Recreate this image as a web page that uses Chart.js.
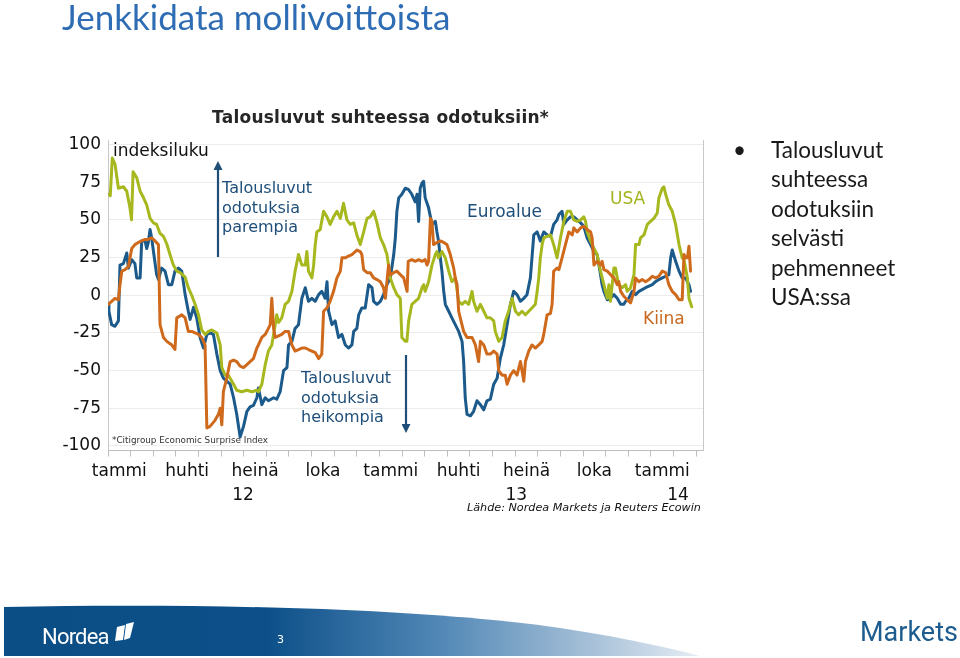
<!DOCTYPE html>
<html>
<head>
<meta charset="utf-8">
<script src="https://cdn.jsdelivr.net/npm/chart.js@4.4.1/dist/chart.umd.min.js"></script>
<style>
  html, body { margin: 0; padding: 0; background: #fff; }
  #page { position: relative; width: 960px; height: 658px; overflow: hidden; background: #fff; }
  #chartWrap { position: absolute; left: 0; top: 0; width: 960px; height: 658px; }
  .t { position: absolute; white-space: nowrap; }
  .dv { font-family: "DejaVu Sans", Verdana, sans-serif; }
  .cal { font-family: Lato, "Open Sans", sans-serif; }
</style>
</head>
<body>
<div id="page">
  <div id="chartWrap"><canvas id="c" width="960" height="658"></canvas></div>

  <div class="t cal" style="left:62px; top:-3px; font-size:35px; line-height:38px; color:#2E6DB4;">Jenkkidata mollivoittoista</div>

  <div class="t dv" style="left:212px; top:107px; font-size:17px; line-height:20px; font-weight:bold; letter-spacing:0.25px; color:#262626;">Talousluvut suhteessa odotuksiin*</div>
  <div class="t dv" style="left:113px; top:140px; font-size:17px; line-height:20px; color:#111;">indeksiluku</div>

  <div class="t dv" style="left:222px; top:178px; font-size:16px; line-height:19.5px; color:#1F4E79;">Talousluvut<br>odotuksia<br>parempia</div>
  <div class="t dv" style="left:301px; top:368px; font-size:16px; line-height:19.5px; color:#1F4E79;">Talousluvut<br>odotuksia<br>heikompia</div>

  <div class="t dv" style="left:467px; top:201px; font-size:17px; line-height:20px; color:#1F4E79;">Euroalue</div>
  <div class="t dv" style="left:610px; top:188px; font-size:17px; line-height:20px; color:#A3B31C;">USA</div>
  <div class="t dv" style="left:643px; top:308px; font-size:17px; line-height:20px; color:#C8691F;">Kiina</div>

  <div class="t dv" style="left:112px; top:434px; font-size:8.8px; line-height:12px; color:#333;">*Citigroup Economic Surprise Index</div>
  <div class="t dv" style="left:467px; top:501px; font-size:11.2px; line-height:14px; font-style:italic; color:#111;">Lähde: Nordea Markets ja Reuters Ecowin</div>

  <div class="t cal" style="left:733px; top:135px; font-size:22.5px; line-height:29.4px; color:#1a1a1a;">•</div>
  <div class="t cal" style="left:771px; top:135px; font-size:22.5px; line-height:29.4px; color:#1a1a1a;">Talousluvut<br>suhteessa<br>odotuksiin<br>selvästi<br>pehmenneet<br>USA:ssa</div>

  <svg style="position:absolute; left:0; top:0;" width="960" height="658">
    <defs>
      <linearGradient id="band" x1="0" y1="0" x2="1" y2="0">
        <stop offset="0" stop-color="#0B4E85"/>
        <stop offset="0.38" stop-color="#0D5089"/>
        <stop offset="0.62" stop-color="#4F86B5"/>
        <stop offset="0.85" stop-color="#A9C2D9"/>
        <stop offset="1" stop-color="#E6EDF4"/>
      </linearGradient>
      <marker id="ah" markerUnits="userSpaceOnUse" markerWidth="9" markerHeight="9" refX="2" refY="4.5" orient="auto">
        <path d="M0,0 L9,4.5 L0,9 Z" fill="#1F4E79"/>
      </marker>
    </defs>
    <line x1="218" y1="257" x2="218" y2="168" stroke="#1F4E79" stroke-width="2.2" marker-end="url(#ah)"/>
    <line x1="406" y1="355" x2="406" y2="426" stroke="#1F4E79" stroke-width="2.2" marker-end="url(#ah)"/>
    <path d="M4,607 C 200,603 420,608 560,628 C 620,637 670,648 700,656 L4,656 Z" fill="url(#band)"/>
    <text x="42" y="644" font-family="Roboto, 'Liberation Sans', sans-serif" font-size="22" fill="#fff" letter-spacing="-0.8">Nordea</text>
    <path d="M117,627 L125,625 L123,640 L115,641 Z" fill="#fff"/>
    <path d="M126,624 L134,622 L130,638 L124,640 Z" fill="#fff"/>
    <text x="277" y="643" font-family="'DejaVu Sans', sans-serif" font-size="11" fill="#fff">3</text>
    <text x="860" y="641" font-family="Roboto, 'Liberation Sans', sans-serif" font-size="27" fill="#1D5C8F">Markets</text>
  </svg>
</div>

<script>
// ---- data (months since start of Jan 2012, index value) ----
const xTickLabels = ['tammi','huhti','heinä','loka','tammi','huhti','heinä','loka','tammi'];
const yearLabels = ['12','13','14'];
const yTickValues = [-100,-75,-50,-25,0,25,50,75,100];

const euroMonths = [0.01,0.04,0.16,0.31,0.46,0.53,0.68,0.83,0.9,1.05,1.19,1.27,1.42,1.49,1.64,1.71,1.78,1.86,1.93,2.01,2.15,2.23,2.37,2.52,2.67,2.82,2.96,3.11,3.26,3.41,3.55,3.63,3.78,3.92,4.07,4.22,4.37,4.51,4.66,4.81,4.96,5.1,5.25,5.4,5.55,5.69,5.84,5.99,6.14,6.28,6.43,6.58,
6.65,6.8,6.95,7.09,7.32,7.46,7.61,7.76,7.91,7.98,8.13,8.27,8.42,8.57,8.72,8.86,9.01,9.16,9.31,9.45,9.6,9.68,9.75,9.9,10.04,10.19,10.34,10.49,10.63,10.78,10.86,11.0,11.08,11.22,11.37,11.52,11.67,11.74,11.89,12.04,12.18,12.33,12.48,12.63,12.7,12.77,12.85,12.99,13.14,
13.29,13.43,13.58,13.66,13.73,13.8,13.88,13.95,14.02,14.17,14.32,14.47,14.54,14.61,14.69,14.76,14.84,14.91,15.06,15.2,15.35,15.5,15.65,15.72,15.79,15.87,16.02,16.16,16.31,16.46,16.61,16.75,16.9,17.05,17.2,17.34,17.49,17.64,17.79,17.93,18.08,18.23,18.38,18.52,18.67,18.82,18.97,19.11,19.26,19.41,19.56,19.7,19.85,
19.93,20.07,20.15,20.3,20.44,20.59,20.74,20.89,21.03,21.18,21.33,21.48,21.62,21.7,21.77,21.84,21.92,22.07,22.21,22.36,22.51,22.66,22.8,22.88,23.02,23.17,23.32,23.47,23.61,23.76,23.91,24.06,24.2,24.35,24.5,24.65,24.79,24.87,24.94,25.09,25.24,25.38,25.53,25.61,25.68,25.75];
const euroValues = [-6,-10.6,-19.5,-20.6,-17,20,21,28,18,23.6,21,11.5,11.5,36,36,31,35,43.6,38,29,13.7,10.4,18,16,7,7,16,18,16,0.4,-10.6,-16,-8,-15,-28,-35,-26,-25,-26,-39,-50,-55,-57,-59,-68,-79,-94,-87,-77,-74,-73,-68,
-61.5,-72.6,-68,-70,-68,-69,-64,-50,-48,-33,-30.6,-22,-19.5,-2,5,-4,-2,-4,0.4,2.6,-2,9,-10.6,-19.5,-17,-28,-26,-33,-35,-33,-24,-22,-13,-8.4,-8.4,7,5,-4,-6,-4,0.4,7,11.5,27,38,55.7,64.6,67,71,
70,67,62,67,49,71,74.5,75.6,64.6,58,47,49,42,36,24.8,16,2.6,-6,-10.6,-15,-19.5,-24,-30.6,-44,-68,-79,-80,-77,-70,-72.6,-76,-70,-69,-59,-55,-42,-33,-19.5,-6,2.6,0.4,-4,-2,0.4,11.5,40,42,36,42,40,39,47,50,
53.5,55.7,47,50,52,52,50,48,45.8,38,33.6,29,27,20,13.7,7,2.6,-3,-2,0.4,-2,-6,-6,-4,-2,2.6,0.4,2.6,3.7,5,6,7,9,10.4,11.5,12.6,13.7,24.8,30,22.5,16,11.5,11.5,9,7,2.6];

const usaMonths = [0.04,0.1,0.19,0.31,0.46,0.68,0.83,0.97,1.04,1.11,1.27,1.42,1.56,1.71,1.86,2.01,2.15,2.3,2.45,2.6,2.74,2.89,3.04,3.19,3.41,3.55,3.7,3.85,4.0,4.14,4.29,4.44,4.59,4.81,4.96,5.03,5.18,5.32,5.55,5.69,5.91,6.14,6.36,6.58,
6.65,6.8,6.95,7.09,7.24,7.39,7.46,7.54,7.68,7.83,7.98,8.13,8.27,8.42,8.57,8.72,8.79,8.86,9.01,9.09,9.16,9.23,9.38,9.53,9.68,9.82,9.97,10.12,10.27,10.41,10.56,10.71,10.86,11.0,11.15,11.3,11.45,11.59,11.74,11.89,12.04,12.18,12.33,12.48,12.63,12.77,12.92,12.99,13.14,
13.21,13.29,13.43,13.58,13.73,13.88,13.95,14.02,14.17,14.32,14.47,14.54,14.61,14.76,14.91,15.06,15.2,15.35,15.5,15.65,15.79,15.94,16.09,16.16,16.31,16.46,16.61,16.75,16.9,17.05,17.12,17.27,17.42,17.56,17.71,17.86,18.01,18.15,18.3,18.45,18.6,18.74,18.89,18.97,19.04,19.11,19.19,19.26,19.41,19.56,19.7,19.85,
20.0,20.15,20.3,20.44,20.59,20.74,20.89,21.03,21.11,21.18,21.33,21.48,21.62,21.77,21.92,21.99,22.07,22.14,22.21,22.36,22.43,22.51,22.58,22.73,22.88,22.95,23.1,23.25,23.32,23.47,23.54,23.69,23.84,23.98,24.13,24.28,24.35,24.5,24.57,24.65,24.79,24.94,25.09,25.24,25.38,25.46,25.53,25.61,25.68,25.8];
const usaValues = [67,66,91,87,71,72,69,58,50,82,78,69,65,60,51,48,47,41,39,34,27,20,16,15,12,5,0,-6,-13,-23,-26,-24,-23,-25,-33,-48,-53,-53,-59,-63,-64,-63,-64,-63,
-64,-59,-46,-37,-33,-19.5,-13,-18,-15,-6,-4,2.6,16,27,20,20,29,16,11.5,20,33.6,42,43.6,55.7,52,47,52,55.7,51,61,50,47,48,40,33.6,42,51,52,55.7,48,38,33.6,27,11.5,5,0.4,-2,-28,-30.6,
-30.6,-17,-6,-4,-2,5,7,2.6,9,20,27,29,24.8,29,24.8,16,9,11.5,-4,-6,-4,-6,2.6,-4,-10.6,-6,-10.6,-15,-15,-17,-24,-30.6,-28,-17,-10.6,-2,-10.6,-13,-10.6,-13,-10.6,-8.4,-6,2.6,11.5,24.8,33.6,38,39,40,33.6,24.8,
38,49,55.7,55.7,50,49,50,52,49,42,36,31,27,16,7,2.6,-2,7,-4,18,18,11.5,7,5,7,2.6,5,13.7,33.6,33.6,38,40,47,49,51,54.6,64.6,71,72,67,60,55.7,47,33.6,24.8,23.6,18,11.5,-2,-7.6];

const chinaMonths = [0.01,0.16,0.31,0.46,0.53,0.61,0.75,0.9,1.05,1.19,1.34,1.49,1.64,1.78,1.93,2.08,2.23,2.3,2.45,2.6,2.82,2.96,3.04,3.26,3.41,3.55,3.7,3.85,4.0,4.14,4.29,4.37,4.51,4.73,4.88,4.96,5.03,5.1,5.25,5.4,5.55,5.69,5.84,5.99,6.14,6.28,6.43,6.58,
6.65,6.8,6.95,7.09,7.17,7.24,7.32,7.39,7.54,7.68,7.83,7.98,8.13,8.27,8.42,8.57,8.72,8.86,9.01,9.16,9.31,9.45,9.53,9.68,9.82,9.97,10.12,10.27,10.34,10.49,10.63,10.78,10.93,11.0,11.15,11.22,11.3,11.45,11.59,11.74,11.89,12.04,12.18,12.26,12.33,12.4,12.48,12.63,12.77,12.92,13.07,13.22,
13.27,13.43,13.58,13.73,13.88,14.02,14.1,14.17,14.25,14.32,14.39,14.54,14.69,14.84,14.98,15.13,15.28,15.35,15.43,15.5,15.57,15.72,15.87,16.09,16.24,16.38,16.46,16.61,16.75,16.9,17.05,17.2,17.27,17.42,17.56,17.64,17.79,17.93,18.08,18.23,18.38,18.45,18.6,18.74,18.89,19.04,19.19,19.26,19.41,19.56,19.63,19.7,19.85,
19.93,20.07,20.22,20.37,20.52,20.59,20.74,20.89,21.03,21.18,21.33,21.4,21.48,21.62,21.77,21.84,21.92,22.07,22.21,22.36,22.51,22.58,22.66,22.8,22.95,23.1,23.25,23.32,23.47,23.61,23.76,23.91,24.06,24.2,24.35,24.5,24.65,24.79,24.94,25.09,25.24,25.38,25.46,25.53,25.61,25.68,25.75];
const chinaValues = [-6,-4,-2,-3,7,16,17,19,31,33.6,35,36,37,37,38,36,33.6,-19.5,-28,-30.6,-33,-36,-15,-13,-15,-24,-24,-25,-26,-28,-33,-88,-87,-83,-79,-75,-86,-64,-55,-44,-43,-44,-47,-48,-46,-44,-42,-35,
-33,-28,-26,-22,-19.5,-2,-22,-28,-27,-26,-24,-24,-33,-37,-36,-35,-35,-36,-37,-38,-42,-39,-10.6,-8.4,-4,2.6,11.5,16,24.8,24.8,26,27,29,30,29,27,17,15,15,11.5,10.4,9,5,-2,9,20,13.7,15,16,13.7,11.5,2.6,
22.5,23.6,22.5,23.6,22.5,23.6,20,22.5,51,49,33.6,35,36,35,33.6,27,18,11.5,7,-10.6,-15,-24,-28,-28,-33,-44,-30.6,-33,-39,-39,-37,-39,-50,-53,-53,-59,-53,-50,-53,-44,-57,-44,-37,-33,-35,-33,-30.6,-26,-13,-12,-6,16,18,
17,24.8,33.6,42,40,44.7,42,44.7,45.8,43.6,42,38,20,22.5,20,22.5,17,16,13.7,11.5,7,9,2.6,-0.7,-3,-5,2.6,11.5,9,10.4,9,10.4,12.6,11.5,12.6,16,15,7,2.6,0.4,-3,-3,27,24.8,24.8,32.5,16];

const toPoints = (ms, vs) => ms.map((m, i) => ({ x: m, y: vs[i] }));

const yearLabelPlugin = {
  id: 'yearLabels',
  afterDraw(chart, args, opts) {
    const xs = chart.scales.x;
    const c = chart.ctx;
    c.save();
    c.font = '17px "DejaVu Sans", Verdana, sans-serif';
    c.fillStyle = '#111';
    c.textAlign = 'center';
    c.textBaseline = 'middle';
    opts.at.forEach((m, i) => {
      c.fillText(yearLabels[i], xs.getPixelForValue(m), opts.y);
    });
    c.restore();
  }
};

new Chart(document.getElementById('c'), {
  type: 'line',
  data: {
    datasets: [
      { label: 'Kiina', data: toPoints(chinaMonths, chinaValues), borderColor: '#CF6A1D', order: 1 },
      { label: 'USA', data: toPoints(usaMonths, usaValues), borderColor: '#A7B81F', order: 2 },
      { label: 'Euroalue', data: toPoints(euroMonths, euroValues), borderColor: '#1B5A8A', order: 3 }
    ]
  },
  options: {
    responsive: false,
    animation: false,
    elements: {
      line: { borderWidth: 3, tension: 0, borderJoinStyle: 'round', borderCapStyle: 'round' },
      point: { radius: 0, hoverRadius: 0 }
    },
    layout: { padding: { left: 0, right: 257, top: 140, bottom: 0 } },
    plugins: {
      legend: { display: false },
      tooltip: { enabled: false },
      title: { display: false },
      yearLabels: { at: [5.97, 18.05, 25.2], y: 496 }
    },
    scales: {
      x: {
        type: 'linear',
        min: 0,
        max: 26.3,
        afterBuildTicks: s => {
          const t = [];
          for (let v = 0; v <= 26; v += 0.5) t.push({ value: v });
          s.ticks = t;
        },
        afterFit: s => { s.height = 658 - 450.5; },
        border: { display: true, color: '#BDBDBD', width: 1 },
        grid: {
          drawOnChartArea: false,
          drawTicks: true,
          tickLength: 6,
          tickColor: ctx => (ctx.tick && Number.isInteger(ctx.tick.value)) ? '#BDBDBD' : 'rgba(0,0,0,0)'
        },
        ticks: {
          autoSkip: false,
          maxRotation: 0,
          minRotation: 0,
          padding: 5,
          color: '#111',
          font: { family: '"DejaVu Sans", Verdana, sans-serif', size: 17 },
          callback: v => {
            const k = (v - 0.5) / 3;
            return Number.isInteger(k) && xTickLabels[k] ? xTickLabels[k] : '';
          }
        }
      },
      y: {
        min: -103,
        max: 103,
        afterBuildTicks: s => { s.ticks = yTickValues.map(v => ({ value: v })); },
        afterFit: s => { s.width = 108; },
        border: { display: true, color: '#C8C8C8', width: 1 },
        grid: { color: '#ECECEC', lineWidth: 1, drawTicks: false },
        ticks: {
          padding: 7,
          color: '#111',
          font: { family: '"DejaVu Sans", Verdana, sans-serif', size: 17 }
        }
      },
      y2: {
        position: 'right',
        min: -103,
        max: 103,
        afterFit: s => { s.width = 0; },
        border: { display: true, color: '#C8C8C8', width: 1 },
        grid: { drawOnChartArea: false, drawTicks: false },
        ticks: { display: false }
      }
    }
  },
  plugins: [yearLabelPlugin]
});
</script>
</body>
</html>
